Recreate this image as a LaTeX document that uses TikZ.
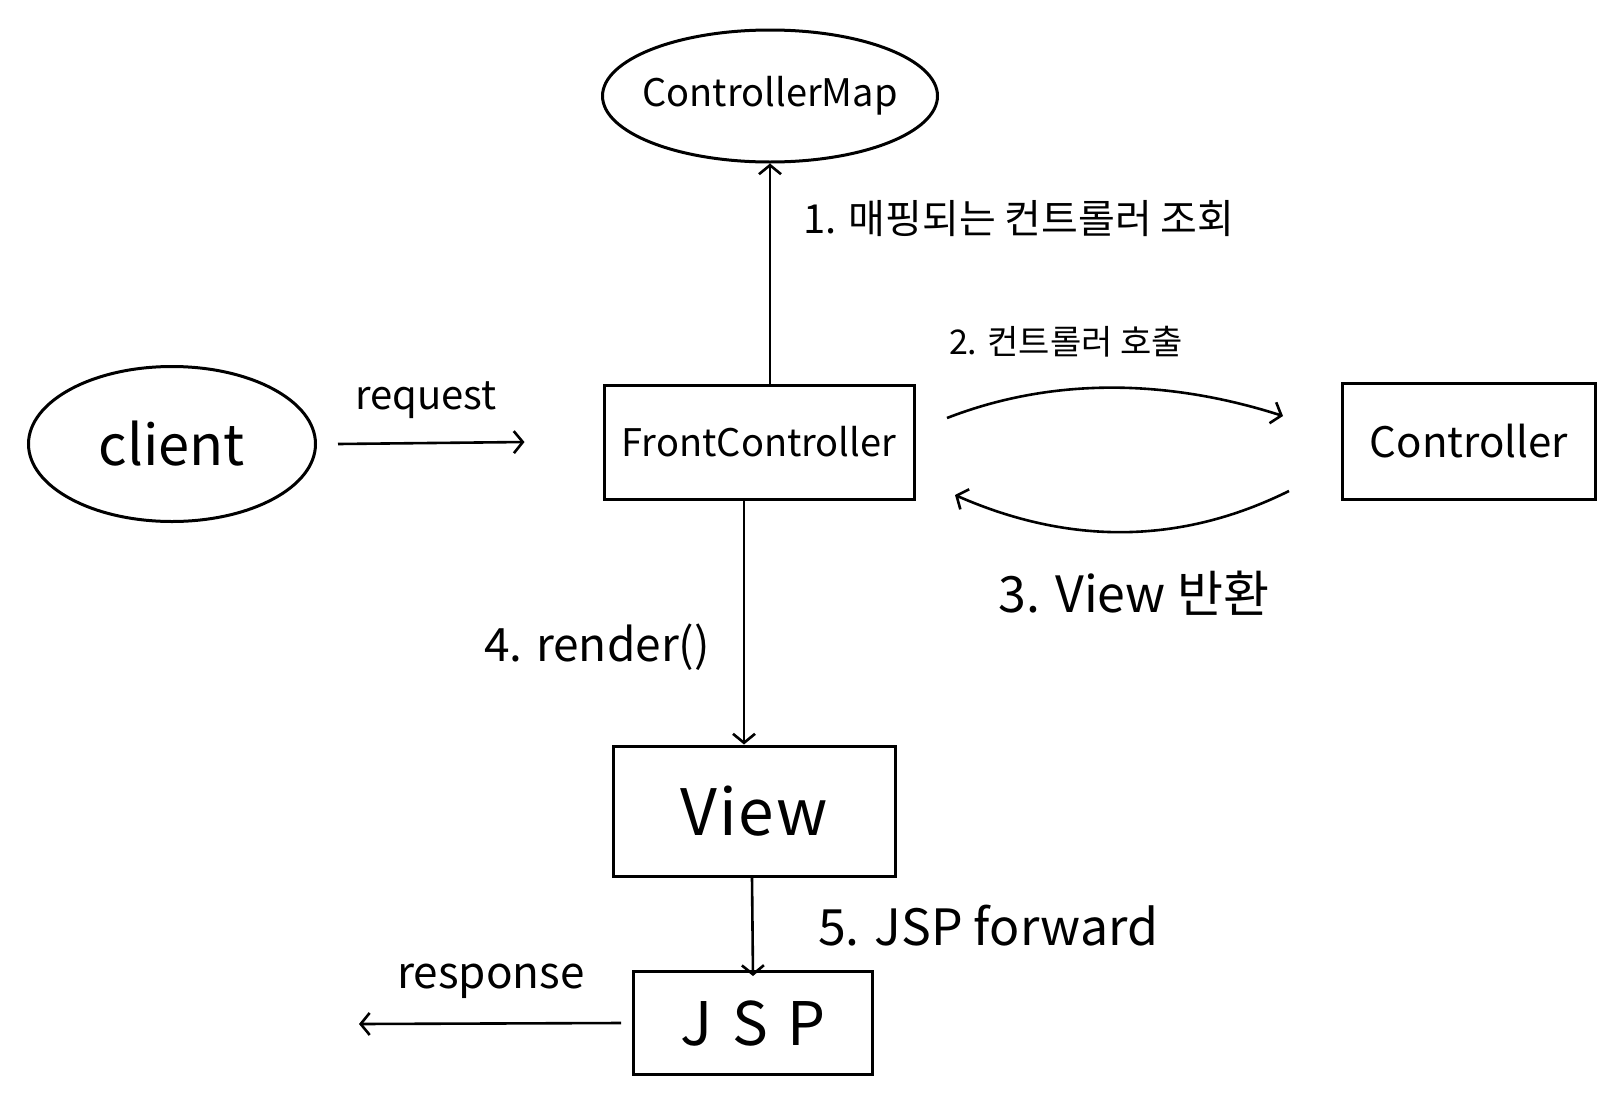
\documentclass[tikz,border=0pt]{standalone}
\usepackage{fontspec}
\setmainfont{Noto Sans CJK KR}
\usetikzlibrary{shapes.geometric,arrows.meta,calc}
\begin{document}
\begin{tikzpicture}[x=1pt,y=-1pt,
  shapeline/.style={draw=black,line width=3pt},
  ell/.style={shapeline,ellipse,inner sep=0pt},
  box/.style={shapeline,rectangle,inner sep=0pt},
  conn/.style={draw=black,line width=2.6pt,-{Straight Barb[length=9pt,width=22pt,line width=2.6pt]}},
  lbl/.style={inner sep=0pt}
]
\useasboundingbox[fill=white] (0,0) rectangle (1610,1106);

% nodes
\node[ell,inner xsep=-60pt,minimum width=335pt,minimum height=132pt] (cm) at (770,96) {\fontsize{38}{42}\selectfont ControllerMap};
\node[ell,minimum width=287pt,minimum height=155pt] (cl) at (172,444) {\fontsize{56}{60}\selectfont client};
\node[box,minimum width=310pt,minimum height=114pt] (fc) at (759,442) {\fontsize{38}{42}\selectfont FrontController};
\node[box,minimum width=253pt,minimum height=116pt] (ct) at (1469,441) {\fontsize{42}{46}\selectfont Controller};
\node[box,minimum width=282pt,minimum height=130pt] (vw) at (754,811) {\fontsize{64}{70}\selectfont V\kern2pt i\kern2pt e\kern2pt w};
\node[box,minimum width=239pt,minimum height=103pt] (jsp) at (753,1023) {\fontsize{60}{66}\selectfont J\,\,S\,\,P};

% free ends
\coordinate (a2s) at (947,418);
\coordinate (a2e) at (1283,416);
\coordinate (a3s) at (1289,491);
\coordinate (a3e) at (955,495);
\coordinate (resp) at (359,1024);

% connectors
\draw[conn] (cm.south |- fc.north) -- (cm.south);
\draw[conn] ([xshift=21pt]cl.east) -- ([xshift=-78pt]fc.west);
\draw[conn] (a2s) .. controls (1050,378) and (1164,378) .. (a2e);
\draw[conn] (a3s) .. controls (1180,545) and (1069,545) .. (a3e);
\draw[conn] ([xshift=-15pt]fc.south) -- ([xshift=-10pt]vw.north);
\draw[conn] ([xshift=-2pt]vw.south) -- ([yshift=-6pt]jsp.north);
\draw[conn] ([xshift=-11pt]jsp.west) -- (resp);

% labels
\node[lbl,font=\fontsize{40}{46}\selectfont] (l1) at (1019,219) {1. 매핑되는 컨트롤러 조회};
\node[lbl,font=\fontsize{40}{46}\selectfont] (lreq) at (426,400) {request};
\node[lbl,font=\fontsize{34}{40}\selectfont] (l2) at (1066,342) {2. 컨트롤러 호출};
\node[lbl,font=\fontsize{50}{56}\selectfont] (l3) at (1134,593) {3. View 반환};
\node[lbl,font=\fontsize{46}{52}\selectfont] (l4) at (597,647) {4. render()};
\node[lbl,font=\fontsize{50}{56}\selectfont] (l5) at (988,926) {5. JSP forward};
\node[lbl,font=\fontsize{44}{50}\selectfont] (lresp) at (491,981) {response};
\end{tikzpicture}
\end{document}
